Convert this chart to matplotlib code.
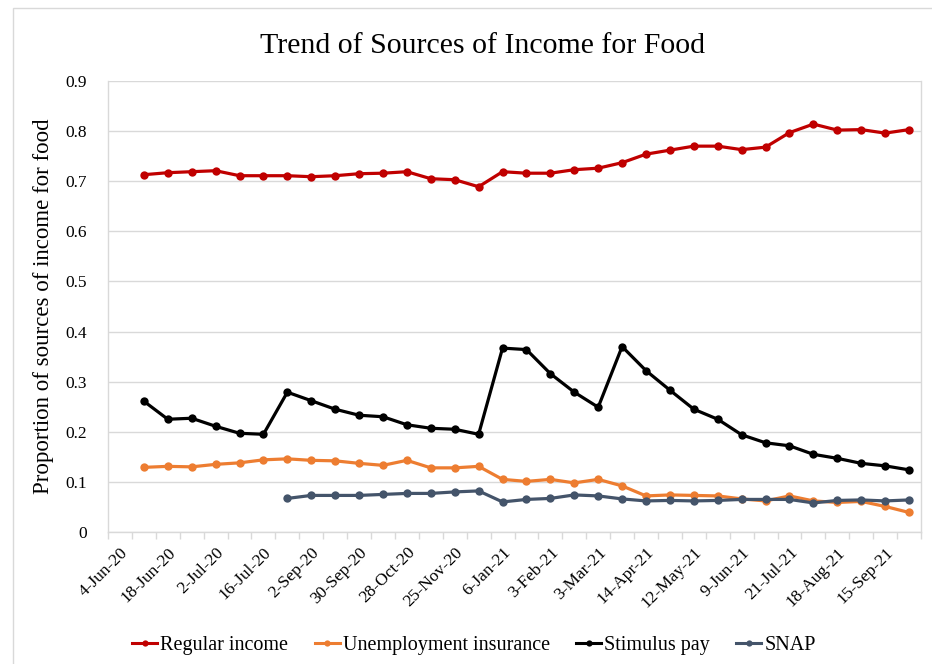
import matplotlib
matplotlib.use("Agg")
import matplotlib.pyplot as plt
from matplotlib.lines import Line2D
from matplotlib.patches import Rectangle
import numpy as np

# ---------------- data ----------------
tick_labels = ["4-Jun-20", "18-Jun-20", "2-Jul-20", "16-Jul-20", "2-Sep-20",
               "30-Sep-20", "28-Oct-20", "25-Nov-20", "6-Jan-21", "3-Feb-21",
               "3-Mar-21", "14-Apr-21", "12-May-21", "9-Jun-21", "21-Jul-21",
               "18-Aug-21", "15-Sep-21"]

regular_income = [None,
                  0.713, 0.717, 0.719, 0.721, 0.711, 0.711, 0.711, 0.709, 0.711, 0.715,
                  0.716, 0.719, 0.705, 0.703, 0.689, 0.719, 0.716, 0.716, 0.723, 0.726,
                  0.737, 0.754, 0.762, 0.770, 0.770, 0.763, 0.768, 0.797, 0.814, 0.802,
                  0.803, 0.796, 0.803]

unemployment_insurance = [None,
                          0.129, 0.131, 0.130, 0.135, 0.138, 0.144, 0.146, 0.143, 0.142, 0.137,
                          0.133, 0.143, 0.128, 0.128, 0.131, 0.105, 0.101, 0.105, 0.098, 0.105,
                          0.092, 0.072, 0.074, 0.073, 0.072, 0.066, 0.062, 0.072, 0.062, 0.059,
                          0.061, 0.051, 0.039]

stimulus_pay = [None,
                0.261, 0.225, 0.227, 0.211, 0.197, 0.195, 0.279, 0.262, 0.245, 0.233,
                0.230, 0.214, 0.207, 0.205, 0.195, 0.367, 0.364, 0.316, 0.279, 0.249,
                0.370, 0.322, 0.283, 0.245, 0.225, 0.194, 0.178, 0.172, 0.155, 0.147,
                0.137, 0.132, 0.124]

snap = [None, None, None, None, None, None, None,
        0.067, 0.073, 0.073, 0.073, 0.075, 0.077, 0.077, 0.080, 0.082, 0.060,
        0.065, 0.067, 0.074, 0.072, 0.066, 0.062, 0.063, 0.062, 0.063, 0.065,
        0.065, 0.065, 0.058, 0.063, 0.064, 0.062, 0.064]

series_names = ["Regular income", "Unemployment insurance", "Stimulus pay", "SNAP"]
series_colors = ["#C00000", "#ED7D31", "#000000", "#44546A"]
series_values = [regular_income, unemployment_insurance, stimulus_pay, snap]

# ---------------- figure ----------------
W, H = 932, 664
DPI = 100
fig = plt.figure(figsize=(W / DPI, H / DPI), dpi=DPI)
fig.patch.set_facecolor("white")
serif = ["Liberation Serif", "DejaVu Serif"]

# chart border (partially cropped in the reference)
fig.patches.append(Rectangle((13 / W, -0.05), 1.1, 1 - 8 / H + 0.05,
                             transform=fig.transFigure, fill=False,
                             edgecolor="#D9D9D9", linewidth=1.0))

left, right, top, bottom = 108, 921, 81, 532
ax = fig.add_axes([left / W, 1 - bottom / H, (right - left) / W, (bottom - top) / H])

n = len(regular_income)
x = np.arange(n)
for name, col, vals in zip(series_names, series_colors, series_values):
    y = np.array([np.nan if v is None else v for v in vals], dtype=float)
    ax.plot(x, y, color=col, linewidth=2.3, marker="o", markersize=6.0,
            markeredgewidth=0, label=name, solid_joinstyle="round")

ax.set_xlim(-0.5, n - 0.5)
ax.set_ylim(0, 0.9)
ax.set_yticks(np.arange(0, 0.91, 0.1))
ax.set_yticklabels(["0"] + [f"{v:.1f}" for v in np.arange(0.1, 0.91, 0.1)],
                   fontfamily=serif, fontsize=12.5)
ax.yaxis.grid(True, color="#D9D9D9", linewidth=1.0)
ax.set_axisbelow(True)
ax.tick_params(axis="y", length=0, pad=15)

# x ticks: labels every 2 categories, tick marks at category boundaries
label_pos = np.arange(0, n, 2)[:len(tick_labels)]
ax.set_xticks(label_pos)
ax.set_xticklabels(tick_labels, rotation=45, ha="right", va="top",
                   rotation_mode="anchor", fontfamily=serif, fontsize=12.5)
ax.tick_params(axis="x", which="major", length=0, pad=9)
ax.set_xticks(np.arange(-0.5, n, 1.0), minor=True)
ax.tick_params(axis="x", which="minor", length=5, color="#D9D9D9", width=1.0)

for s in ["left", "bottom", "right"]:
    ax.spines[s].set_color("#D9D9D9")
    ax.spines[s].set_linewidth(1.0)
ax.spines["top"].set_visible(False)

ax.set_ylabel("Proportion of sources of income for food", fontfamily=serif,
              fontsize=16.5, labelpad=8)
fig.text(483 / W, 1 - 46 / H, "Trend of Sources of Income for Food",
         ha="center", va="center", fontfamily=serif, fontsize=21.5)

handles = [Line2D([0], [0], color=c, linewidth=2.2, marker="o", markersize=4.5,
                  markeredgewidth=0) for c in series_colors]
fig.legend(handles, series_names, loc="center", bbox_to_anchor=(474 / W, 1 - 645 / H),
           ncol=4, frameon=False, prop={"family": serif, "size": 14.5},
           handlelength=1.25, handletextpad=0.15, columnspacing=1.3)

fig.savefig("out.png", dpi=DPI, facecolor="white")
